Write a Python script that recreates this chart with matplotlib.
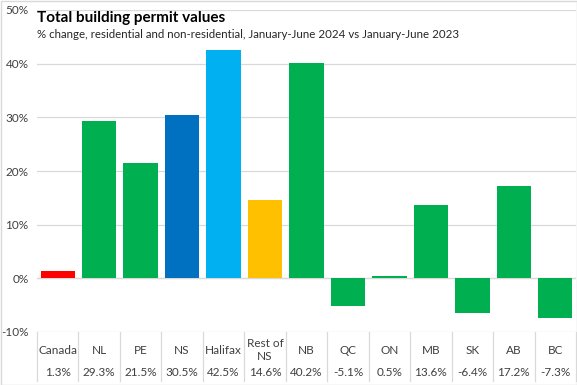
import matplotlib
matplotlib.use("Agg")
import matplotlib.pyplot as plt
from matplotlib.transforms import blended_transform_factory
from matplotlib.patches import Rectangle

categories = ["Canada", "NL", "PE", "NS", "Halifax", "Rest of\nNS", "NB", "QC", "ON", "MB", "SK", "AB", "BC"]
values = [1.3, 29.3, 21.5, 30.5, 42.5, 14.6, 40.2, -5.1, 0.5, 13.6, -6.4, 17.2, -7.3]
value_labels = ["1.3%", "29.3%", "21.5%", "30.5%", "42.5%", "14.6%", "40.2%", "-5.1%", "0.5%", "13.6%", "-6.4%", "17.2%", "-7.3%"]
colors = ["#FF0000", "#00B050", "#00B050", "#0070C0", "#00B0F0", "#FFC000", "#00B050",
          "#00B050", "#00B050", "#00B050", "#00B050", "#00B050", "#00B050"]
yticks = [-10, 0, 10, 20, 30, 40, 50]

plt.rcParams['font.family'] = ['Lato', 'DejaVu Sans']

W, H = 577, 385
fig = plt.figure(figsize=(W / 100, H / 100), dpi=100)
left, right, top, bottom = 37, 576, 10, 332
ax = fig.add_axes([left / W, 1 - bottom / H, (right - left) / W, (bottom - top) / H])

x = list(range(len(categories)))
ax.bar(x, values, width=0.83, color=colors, zorder=3)
ax.set_xlim(-0.5, len(categories) - 0.5)
ax.set_ylim(-10, 50)
ax.set_yticks(yticks)
ax.set_yticklabels([f"{t}%" for t in yticks], fontsize=8.5, color="#404040")
ax.yaxis.grid(True, color="#D9D9D9", linewidth=0.9, zorder=0)
ax.tick_params(axis="y", length=0, pad=6)
ax.set_xticks([])
for s in ax.spines.values():
    s.set_visible(False)
ax.axhline(0, color="#D9D9D9", linewidth=0.9, zorder=1)

# data table
trans = blended_transform_factory(ax.transData, ax.transAxes)
ph = bottom - top
for i, (c, v) in enumerate(zip(categories, value_labels)):
    ax.text(i, -18 / ph, c, transform=trans, ha="center", va="center", fontsize=8.5,
            color="#404040", linespacing=1.25, clip_on=False)
    ax.text(i, -40 / ph, v, transform=trans, ha="center", va="center", fontsize=8.5,
            color="#404040", clip_on=False)
for i in range(len(categories) + 1):
    ax.plot([i - 0.5, i - 0.5], [0, -49 / ph], transform=trans, color="#D9D9D9",
            linewidth=0.9, clip_on=False)

# titles
fig.text(37 / W, 1 - 18 / H, "Total building permit values", fontsize=11,
         fontweight="bold", color="black", va="center", ha="left")
fig.text(37 / W, 1 - 35 / H,
         "% change, residential and non-residential, January-June 2024 vs January-June 2023",
         fontsize=8.3, color="#262626", va="center", ha="left")

fig.patches.append(Rectangle((0.5 / W, 0.5 / H), 1 - 1 / W, 1 - 1 / H, transform=fig.transFigure,
                             fill=False, edgecolor="#D9D9D9", linewidth=1))
fig.savefig("out.png", dpi=100)
